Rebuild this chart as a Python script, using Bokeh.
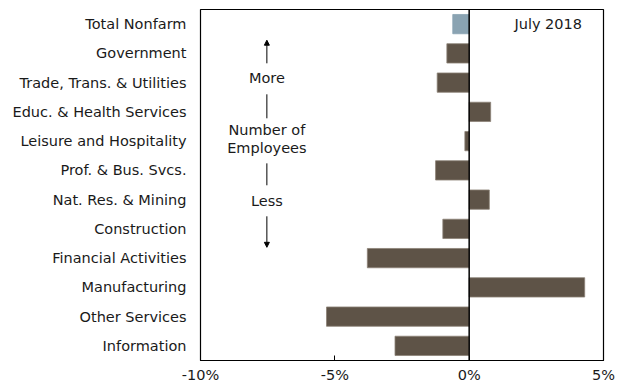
from bokeh.plotting import figure
from bokeh.models import FactorRange, Range1d, Arrow, NormalHead, Span, Label, FixedTicker, ColumnDataSource
from bokeh.embed import file_html
from bokeh.resources import INLINE

# Employment change by industry (percent), July 2018
categories = [
    "Total Nonfarm",
    "Government",
    "Trade, Trans. & Utilities",
    "Educ. & Health Services",
    "Leisure and Hospitality",
    "Prof. & Bus. Svcs.",
    "Nat. Res. & Mining",
    "Construction",
    "Financial Activities",
    "Manufacturing",
    "Other Services",
    "Information",
]
values = [-0.61, -0.83, -1.19, 0.80, -0.16, -1.25, 0.75, -0.98, -3.79, 4.30, -5.31, -2.76]
x_ticks = [-10, -5, 0, 5]
x_tick_labels = ["-10%", "-5%", "0%", "5%"]

FONT = "DejaVu Sans"
FSIZE = "14.5px"
TEXT = "#1a1a1a"
BROWN = "#5E5347"
BLUE = "#8AA3B2"

colors = [BLUE if c == "Total Nonfarm" else BROWN for c in categories]
edges = ["#8AA3B2" if c == "Total Nonfarm" else "#8C8276" for c in categories]
src = ColumnDataSource(dict(cat=categories, val=values, color=colors, edge=edges))

p = figure(
    width=624, height=385,
    y_range=FactorRange(factors=list(reversed(categories)), range_padding=0),
    x_range=Range1d(-10, 5),
    output_backend="svg", toolbar_location=None,
    min_border_left=200, min_border_right=21, min_border_top=9, min_border_bottom=25,
)
p.hbar(y="cat", right="val", left=0, height=0.66, fill_color="color",
       line_color="edge", line_width=0.8, source=src)

# zero line
p.add_layout(Span(location=0, dimension="height", line_color="black", line_width=1.5))

p.xgrid.visible = False
p.ygrid.visible = False
p.outline_line_color = "black"
p.outline_line_width = 1.2
p.background_fill_color = "white"
p.border_fill_color = "white"

xa = p.xaxis[0]
xa.ticker = FixedTicker(ticks=x_ticks)
xa.major_label_overrides = {t: s for t, s in zip(x_ticks, x_tick_labels)}
xa.major_tick_in = 5
xa.major_tick_out = 0
xa.minor_tick_in = 0
xa.minor_tick_out = 0
xa.axis_line_color = "black"
xa.axis_line_width = 1.2
xa.major_label_text_font = FONT
xa.major_label_text_font_size = FSIZE
xa.major_label_text_color = TEXT
xa.major_label_standoff = 6

ya = p.yaxis[0]
ya.axis_line_color = None
ya.major_tick_in = 0
ya.major_tick_out = 0
ya.minor_tick_in = 0
ya.minor_tick_out = 0
ya.major_label_text_font = FONT
ya.major_label_text_font_size = FSIZE
ya.major_label_text_color = TEXT
ya.major_label_standoff = 14

# "More / Less" guide on the left
ax = -7.53
p.add_layout(Arrow(x_start=ax, y_start=10.16, x_end=ax, y_end=10.95,
                   line_color="black", line_width=1,
                   end=NormalHead(size=5, fill_color="black", line_color="black")))
p.add_layout(Arrow(x_start=ax, y_start=4.93, x_end=ax, y_end=3.87,
                   line_color="black", line_width=1,
                   end=NormalHead(size=5, fill_color="black", line_color="black")))
p.segment(x0=[ax, ax], y0=[9.10, 6.74], x1=[ax, ax], y1=[8.28, 5.99],
          line_color="black", line_width=1)

for txt, yy in [("More", 9.65), ("Number of", 7.87), ("Employees", 7.25), ("Less", 5.47)]:
    p.add_layout(Label(x=ax, y=yy, text=txt, text_align="center", text_baseline="middle",
                       text_font=FONT, text_font_size=FSIZE, text_color=TEXT))

p.add_layout(Label(x=4.2, y=11.5, text="July 2018", text_align="right", text_baseline="middle",
                   text_font=FONT, text_font_size=FSIZE, text_color=TEXT))

open("out.html", "w").write(file_html(p, INLINE))
